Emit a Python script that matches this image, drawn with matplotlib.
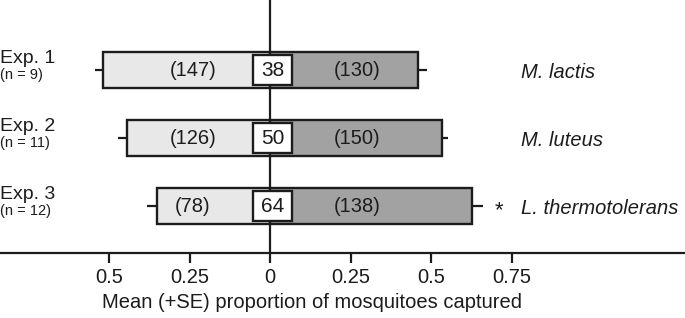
import numpy as np
import matplotlib.pyplot as plt

plt.rcParams['font.family'] = ['Liberation Sans', 'DejaVu Sans']

# data
experiments = ["Exp. 1", "Exp. 2", "Exp. 3"]
n_labels = ["(n = 9)", "(n = 11)", "(n = 12)"]
species = ["M. lactis", "M. luteus", "L. thermotolerans"]
left_mean = [0.52, 0.445, 0.352]
left_se = [0.025, 0.026, 0.031]
right_mean = [0.46, 0.533, 0.626]
right_se = [0.027, 0.021, 0.034]
left_n = [147, 126, 78]
right_n = [130, 150, 138]
no_choice = [38, 50, 64]
significant = [False, False, True]

tick_pos = [-0.5, -0.25, 0, 0.25, 0.5, 0.75]
tick_lab = ["0.5", "0.25", "0", "0.25", "0.5", "0.75"]

ink = '#1c1c1c'
lw = 1.7

fig = plt.figure(figsize=(6.85, 3.18), dpi=100)
ax = fig.add_axes([0, 65 / 318, 1, 253 / 318])

y = np.arange(len(experiments))
lm = np.array(left_mean)
rm = np.array(right_mean)
zeros = np.zeros(len(y))

# vertical zero line
ax.axvline(0, color=ink, lw=1.6, zorder=1)

# SE stubs
ax.errorbar(-lm, y, xerr=[left_se, zeros], fmt='none', ecolor=ink, elinewidth=1.6, capsize=0, zorder=2)
ax.errorbar(rm, y, xerr=[zeros, right_se], fmt='none', ecolor=ink, elinewidth=1.6, capsize=0, zorder=2)

# bars
ax.barh(y, -lm, height=0.53, color='#e8e8e8', edgecolor=ink, linewidth=lw, zorder=3)
ax.barh(y, rm, height=0.53, color='#a2a2a2', edgecolor=ink, linewidth=lw, zorder=3)

# white boxes with non-responders
ax.barh(y, 0.122, left=-0.053, height=0.43, color='white', edgecolor=ink, linewidth=lw, zorder=4)
for i in range(len(y)):
    ax.text(0.008, y[i], str(no_choice[i]), ha='center', va='center', fontsize=15, color=ink, zorder=5)
    ax.text(-0.24, y[i], "(%d)" % left_n[i], ha='center', va='center', fontsize=14.5, color=ink, zorder=5)
    ax.text(0.27, y[i], "(%d)" % right_n[i], ha='center', va='center', fontsize=14.5, color=ink, zorder=5)
    ax.text(0.78, y[i] + 0.04, species[i], ha='left', va='center', fontsize=14.5, style='italic', color=ink)
    if significant[i]:
        ax.text(0.71, y[i] + 0.07, "*", ha='center', va='center', fontsize=16, color=ink)
    ax.text(-0.838, y[i] - 0.17, experiments[i], ha='left', va='center', fontsize=14, color=ink)
    ax.text(-0.838, y[i] + 0.07, n_labels[i], ha='left', va='center', fontsize=10.5, color=ink)

ax.set_xlim(-270 / 322, 415 / 322)
ax.set_ylim(2 + 47 / 68, -70 / 68)

for s in ['top', 'right', 'left']:
    ax.spines[s].set_visible(False)
ax.spines['bottom'].set_linewidth(1.6)
ax.spines['bottom'].set_color(ink)
ax.set_yticks([])
ax.set_xticks(tick_pos)
ax.set_xticklabels(tick_lab)
ax.tick_params(axis='x', length=7, width=1.6, color=ink, labelsize=14.5, labelcolor=ink, pad=4)
ax.set_xlabel("Mean (+SE) proportion of mosquitoes captured", fontsize=14.5, color=ink, va='center')
ax.xaxis.set_label_coords(312 / 685, -49 / 253)

fig.savefig('out.png', dpi=100)
